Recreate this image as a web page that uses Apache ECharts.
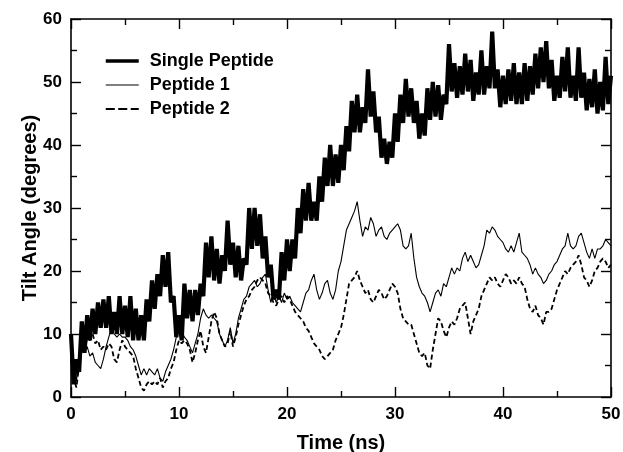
<!DOCTYPE html>
<html>
<head>
<meta charset="utf-8">
<script src="https://cdn.jsdelivr.net/npm/echarts@6/dist/echarts.min.js"></script>
<style>
html,body{margin:0;padding:0;background:#fff;}
#chart{width:623px;height:452px;}
</style>
</head>
<body>
<div id="chart"></div>
<script>
// Sampling interval of the traces (ns)
const sampleStepNs = 0.25;

const seriesNames = ['Single Peptide', 'Peptide 1', 'Peptide 2'];

// Tilt angle (degrees), one value every 0.25 ns from 0 to 50 ns
const singlePeptide = [
  10, 2, 6, 4, 12, 7, 13, 9, 14, 10, 15, 11, 15.5, 11, 16, 10, 13.5, 10, 16, 10,
  14.5, 9.5, 16, 9, 14, 9, 13, 9, 15.5, 12, 18.5, 14, 19.5, 16, 22.5, 17.5, 23, 15, 16, 9.5,
  13, 9, 18, 12.5, 17, 12, 17, 13, 18, 16, 24.5, 19, 25.5, 18.5, 23.5, 18, 22.5, 20, 28, 21,
  24.5, 19, 24, 18.5, 22, 21, 30, 23.5, 30, 24, 29, 22, 25.5, 19, 21, 15.5, 17, 15.5, 23, 18.5,
  25, 20, 25, 22, 30, 26, 33, 28, 34, 28, 31, 28, 35, 31, 38, 33.5, 40, 33.5, 38.5, 34,
  40, 36, 43, 39, 47, 42, 48, 42, 46, 43.5, 52, 44.5, 48.5, 42, 44.5, 38, 41, 37, 40.5, 38,
  45, 40.5, 48, 43.5, 50.5, 44.5, 49, 43.5, 47, 41, 45, 41.5, 49, 44, 50, 44.5, 49.5, 44, 48, 46.5,
  56, 48.5, 53, 47.5, 52.5, 48, 54.5, 48.5, 53.5, 47, 51.5, 48, 55, 48, 52.5, 49, 58, 49, 52, 46,
  51, 46.5, 52, 47, 53, 46.5, 51.5, 46.5, 53, 47, 52.5, 48, 54.5, 49, 55.5, 50, 56.5, 49, 53.5, 47,
  51, 47.5, 54, 48.5, 55.5, 47.5, 51, 47, 55.5, 47.5, 51.5, 45.5, 50.5, 46, 52, 45, 50, 45.5, 54, 46.5,
  51
];

const peptide1 = [
  8, 5, 2.5, 6, 9, 7, 8, 6.5, 7, 5.5, 5, 4.5, 6, 8, 9.5, 11, 10, 9.5, 10, 9.5,
  9.5, 9, 8, 7.5, 6.5, 5, 3.5, 4.5, 3.5, 4.5, 4, 3.5, 4.5, 3, 2.5, 4, 5, 6, 7.5, 9.5,
  11, 10.5, 9.5, 9, 8, 7, 8.5, 10, 12.5, 14, 13, 12.5, 13, 12.5, 12, 10, 9, 8, 9, 11,
  8.5, 10, 12.5, 14, 15.5, 16, 17.5, 18, 18.5, 17.5, 18, 19, 19.5, 17, 15, 16.5, 15, 16, 15, 16.5,
  15.5, 16, 15, 14.5, 14, 13.5, 15, 16.5, 17, 18.5, 19.5, 17, 15.5, 16.5, 18, 18.5, 16.5, 15.5, 17, 20,
  21.5, 24, 26.5, 27.5, 28.5, 29.5, 31, 28, 25.5, 27, 26.5, 28.5, 27.5, 25.5, 26.5, 27, 25.5, 25, 26, 26.5,
  27, 27.5, 26.5, 24, 23.5, 24, 26, 22, 19, 17.5, 16.5, 16, 15, 13.5, 15, 16.5, 17, 16, 18, 17.5,
  19, 20.5, 19.5, 20.5, 20, 22, 23, 21.5, 22.5, 21.5, 20.5, 21, 22.5, 24, 26.5, 26, 27, 26.5, 25.5, 25,
  24.5, 23.5, 23, 24, 23, 24.5, 26, 23, 22.5, 22, 21, 19.5, 20.5, 19.5, 19, 18, 18.5, 19.5, 20, 21,
  21.5, 22.5, 23.5, 24, 26, 24, 23.5, 24, 25.5, 26, 24.5, 23, 22, 23.5, 22, 23.5, 23.5, 24, 25, 24.5,
  24
];

const peptide2 = [
  6, 3, 1.5, 5, 8, 7, 9.5, 9, 10, 8.5, 9, 7.5, 8, 7.5, 8.5, 8, 6, 5.5, 7.5, 9,
  8, 7.5, 7, 6.5, 4.5, 3, 1.5, 1, 2, 2.5, 2, 2.5, 2, 3, 1.5, 2.5, 3, 4.5, 5.5, 7.5,
  9, 8.5, 9, 8.5, 7.5, 5.5, 7, 9, 10.5, 8, 7, 9.5, 12, 13.5, 12.5, 10, 9, 8, 8.5, 10.5,
  8, 9.5, 11.5, 13, 14.5, 15.5, 16, 17, 17.5, 18.5, 19, 18.5, 18, 16.5, 16, 15, 14.5, 15.5, 16, 15,
  16, 15.5, 14.5, 13.5, 13, 12.5, 12, 11, 10.5, 9.5, 8.5, 8, 7.5, 6.5, 6, 6.5, 7, 7.5, 9, 10,
  11, 13, 15.5, 18, 18.5, 19, 20, 18.5, 17.5, 16.5, 17, 15.5, 15, 16, 17, 16.5, 15.5, 16, 17, 18,
  17.5, 16.5, 14, 12.5, 12, 11.5, 11.5, 10, 8.5, 7, 6.5, 7, 5, 4.5, 7.5, 10, 12.5, 12, 10.5, 9.5,
  11, 12, 11.5, 12.5, 14, 14.5, 15, 12.5, 10, 12, 13, 14, 16, 17, 18, 19, 18.5, 19, 18, 17.5,
  18.5, 19.5, 19, 18, 18.5, 18, 19, 18, 17.5, 15.5, 14, 13.5, 14.5, 13, 12.5, 11.5, 13.5, 13.5, 14, 15.5,
  17, 18, 19, 20, 19.5, 20.5, 21, 21.5, 22.5, 21, 19, 18.5, 17.5, 18.5, 20, 20.5, 21.5, 22, 21.5, 20.5,
  21
];

const xTicks = [0, 10, 20, 30, 40, 50];
const yTicks = [0, 10, 20, 30, 40, 50, 60];

const toPairs = arr => arr.map((v, i) => [i * sampleStepNs, v]);

const FONT = "'Liberation Sans', Arial, Helvetica, sans-serif";
const black = '#000';

function axisCommon(showLabels) {
  return {
    axisLine: { show: true, onZero: false, lineStyle: { color: black, width: 1.6 } },
    axisTick: { show: true, inside: true, length: 10, lineStyle: { color: black, width: 1.4 } },
    minorTick: { show: true, splitNumber: 2, length: 6, lineStyle: { color: black, width: 1.4 } },
    splitLine: { show: false },
    axisLabel: {
      show: showLabels, color: black, fontSize: 17, fontWeight: 'bold', fontFamily: FONT, margin: 9
    }
  };
}

const chart = echarts.init(document.getElementById('chart'), null, { renderer: 'canvas' });

const hiddenSymbol = { opacity: 0, color: 'rgba(0,0,0,0)', borderWidth: 0 };

const option = {
  animation: false,
  backgroundColor: '#fff',
  textStyle: { fontFamily: FONT },
  grid: { left: 71, right: 12, top: 19, bottom: 55, containLabel: false, outerBoundsMode: 'none' },
  legend: {
    orient: 'vertical',
    left: 104,
    top: 52,
    padding: 0,
    itemWidth: 33,
    itemHeight: 14,
    itemGap: 6,
    itemStyle: hiddenSymbol,
    textStyle: { color: black, fontSize: 18, fontWeight: 'bold', fontFamily: FONT, padding: [0, 0, 0, 6] },
    data: [
      { name: seriesNames[0], itemStyle: hiddenSymbol, lineStyle: { width: 3.5 } },
      { name: seriesNames[1], itemStyle: hiddenSymbol, lineStyle: { width: 1.2 } },
      { name: seriesNames[2], itemStyle: hiddenSymbol, lineStyle: { width: 1.8, type: [9, 3.5] } }
    ]
  },
  xAxis: [
    Object.assign({
      type: 'value', min: xTicks[0], max: xTicks[xTicks.length - 1], interval: xTicks[1] - xTicks[0],
      position: 'bottom',
      name: 'Time (ns)', nameLocation: 'middle', nameGap: 36, nameMoveOverlap: false,
      nameTextStyle: { color: black, fontSize: 20, fontWeight: 'bold', fontFamily: FONT }
    }, axisCommon(true)),
    Object.assign({
      type: 'value', min: xTicks[0], max: xTicks[xTicks.length - 1], interval: xTicks[1] - xTicks[0],
      position: 'top'
    }, axisCommon(false))
  ],
  yAxis: [
    Object.assign({
      type: 'value', min: yTicks[0], max: yTicks[yTicks.length - 1], interval: yTicks[1] - yTicks[0],
      position: 'left',
      name: 'Tilt Angle (degrees)', nameLocation: 'middle', nameGap: 31, nameMoveOverlap: false,
      nameTextStyle: { color: black, fontSize: 20, fontWeight: 'bold', fontFamily: FONT }
    }, axisCommon(true)),
    Object.assign({
      type: 'value', min: yTicks[0], max: yTicks[yTicks.length - 1], interval: yTicks[1] - yTicks[0],
      position: 'right'
    }, axisCommon(false))
  ],
  series: [
    {
      name: seriesNames[2], type: 'line', xAxisIndex: 0, yAxisIndex: 0,
      data: toPairs(peptide2), symbol: 'none', showSymbol: false,
      lineStyle: { color: black, width: 1.8, type: [5, 3] }, itemStyle: { color: black }, z: 2
    },
    {
      name: seriesNames[1], type: 'line', xAxisIndex: 0, yAxisIndex: 0,
      data: toPairs(peptide1), symbol: 'none', showSymbol: false,
      lineStyle: { color: black, width: 1.1 }, itemStyle: { color: black }, z: 3
    },
    {
      name: seriesNames[0], type: 'line', xAxisIndex: 0, yAxisIndex: 0,
      data: toPairs(singlePeptide), symbol: 'none', showSymbol: false,
      lineStyle: { color: black, width: 4.2 }, itemStyle: { color: black }, z: 4
    }
  ]
};

chart.setOption(option);
</script>
</body>
</html>
